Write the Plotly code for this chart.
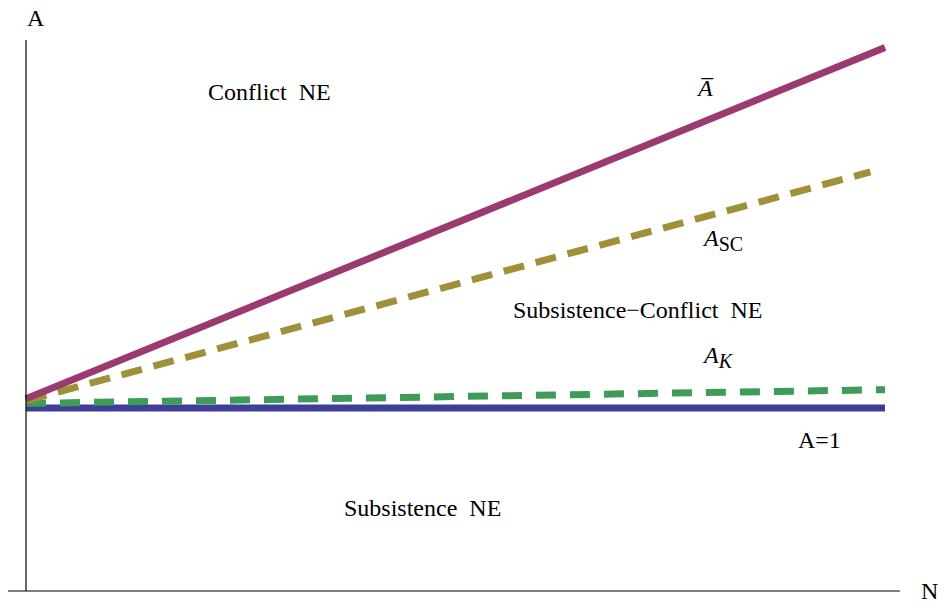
import plotly.graph_objects as go

# Data
N = [0.0, 1.0]
A_bar = [1.05, 2.97]
A_SC_N = [0.0, 0.983]
A_SC = [1.04, 2.29]
A_K = [1.025, 1.10]
A_one = [1.0, 1.0]

PURPLE = "rgb(155,58,112)"
OLIVE = "rgb(160,144,58)"
GREEN = "rgb(62,156,88)"
BLUE = "rgb(62,62,152)"
FONT = "Liberation Serif, Times New Roman, serif"

fig = go.Figure()
fig.add_trace(go.Scatter(x=N, y=A_one, mode="lines", line=dict(color=BLUE, width=7)))
fig.add_trace(go.Scatter(x=N, y=A_K, mode="lines", line=dict(color=GREEN, width=7, dash="20px,14px")))
fig.add_trace(go.Scatter(x=A_SC_N, y=A_SC, mode="lines", line=dict(color=OLIVE, width=7, dash="21px,12px")))
fig.add_trace(go.Scatter(x=N, y=A_bar, mode="lines", line=dict(color=PURPLE, width=7)))

# axes lines
fig.add_shape(type="line", x0=-0.021, x1=1.0175, y0=0, y1=0, line=dict(color="black", width=1.2))
fig.add_shape(type="line", x0=0, x1=0, y0=0, y1=3.011, line=dict(color="black", width=1.2))

ann = [
    ("A", 0.012, 3.13),
    ("N", 1.052, 0.0),
    ("Conflict  NE", 0.284, 2.726),
    ("Subsistence\u2212Conflict  NE", 0.712, 1.536),
    ("Subsistence  NE", 0.461, 0.454),
    ("A=1", 0.924, 0.825),
    ("<i>A\u0305</i>", 0.790, 2.75),
    ("<i>A</i><sub><span style='font-size:20px'>SC</span></sub>", 0.811, 1.92),
    ("<i>A</i><sub><span style='font-size:20px'><i>K</i></span></sub>", 0.806, 1.28),
]
for t, x, y in ann:
    fig.add_annotation(x=x, y=y, text=t, showarrow=False, xanchor="center", yanchor="middle",
                       font=dict(family=FONT, size=24, color="black"))

fig.update_layout(
    width=945, height=609,
    margin=dict(l=0, r=0, t=0, b=0),
    paper_bgcolor="white", plot_bgcolor="white",
    showlegend=False,
    xaxis=dict(range=[-26 / 859, (945 - 26) / 859], visible=False, fixedrange=True),
    yaxis=dict(range=[-18 / 183, 591 / 183], visible=False, fixedrange=True),
)
fig.write_html("out.html", config={"displayModeBar": False},
               post_script="document.body.style.margin='0';document.body.style.overflow='hidden';")
